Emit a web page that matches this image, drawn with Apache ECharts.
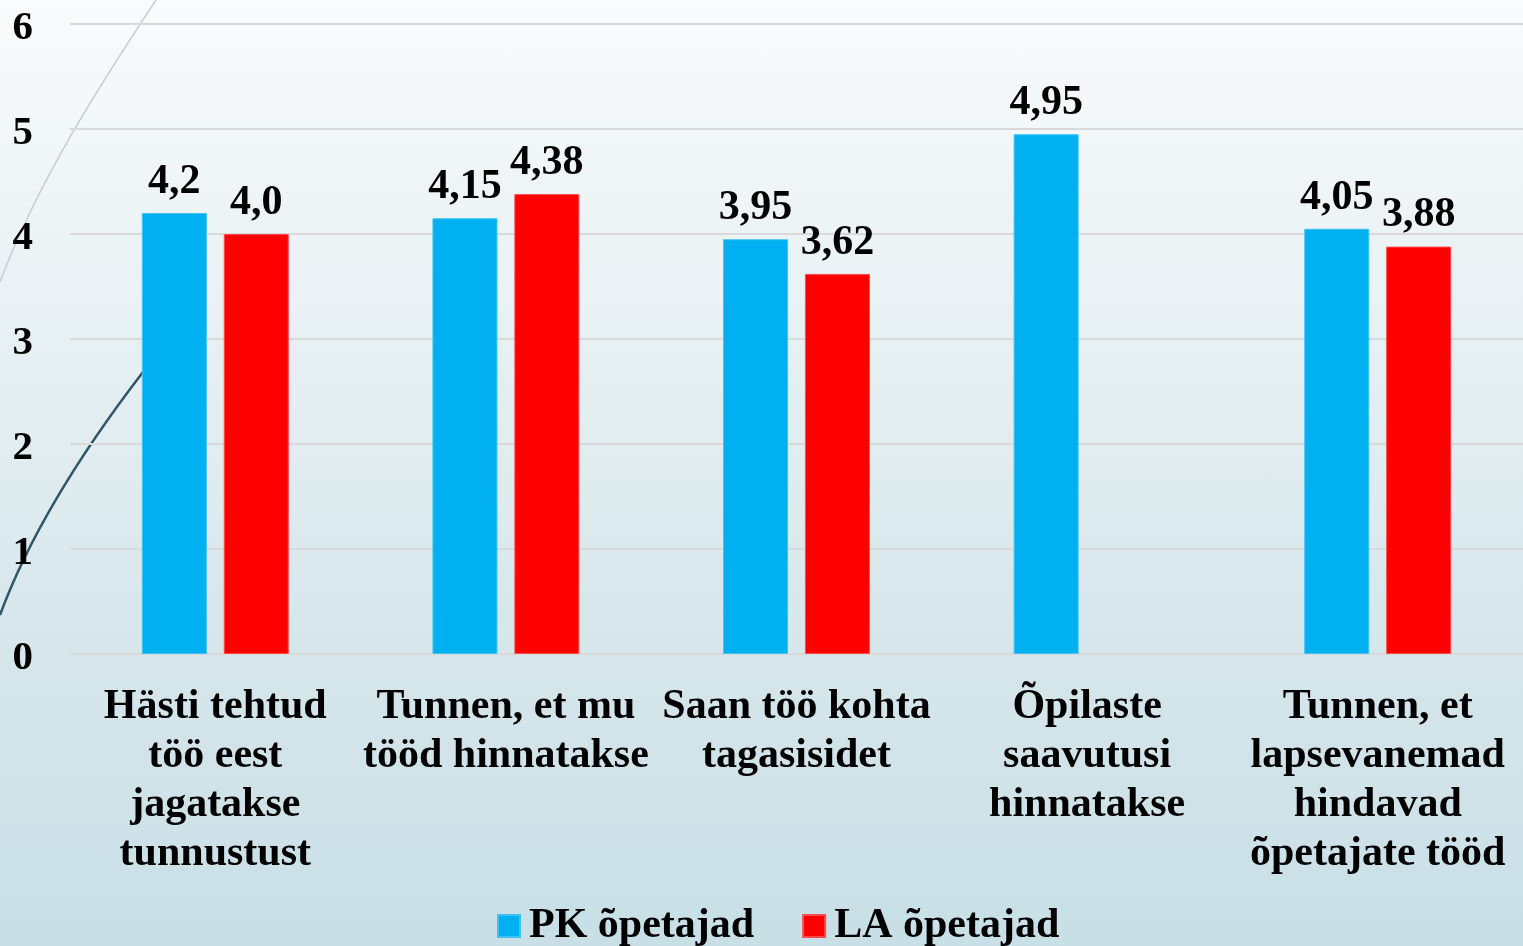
<!DOCTYPE html>
<html>
<head>
<meta charset="utf-8">
<script src="https://cdn.jsdelivr.net/npm/echarts@6/dist/echarts.min.js"></script>
<style>
    html, body {margin: 0; padding: 0;}
    #chart {
        width: 1523px;
        height: 946px;
        background: linear-gradient(to bottom, #f9fbfc 0%, #d6e6eb 69%, #c8dfe6 100%);
    }
</style>
</head>
<body>
<div id="chart"></div>
<script>
// data
var categories = [
    'Hästi tehtud\ntöö eest\njagatakse\ntunnustust',
    'Tunnen, et mu\ntööd hinnatakse',
    'Saan töö kohta\ntagasisidet',
    'Õpilaste\nsaavutusi\nhinnatakse',
    'Tunnen, et\nlapsevanemad\nhindavad\nõpetajate tööd'
];
var seriesNames = ['PK õpetajad', 'LA õpetajad'];
var pkValues = [4.2, 4.15, 3.95, 4.95, 4.05];
var laValues = [4.0, 4.38, 3.62, null, 3.88];
var yTicks = [0, 1, 2, 3, 4, 5, 6];

var FONT = "'Liberation Serif', 'Times New Roman', serif";

function fmtValue(p) {
    var v = p.value;
    if (v == null) return '';
    var s = Number.isInteger(v) ? v.toFixed(1) : String(v);
    return s.replace('.', ',');
}

var chart = echarts.init(document.getElementById('chart'));

var barLabel = {
    show: true,
    position: 'top',
    distance: 10,
    formatter: fmtValue,
    fontFamily: FONT,
    fontWeight: 'bold',
    fontSize: 42,
    color: '#000'
};

var option = {
    backgroundColor: 'transparent',
    textStyle: {fontFamily: FONT},
    animation: false,
    graphic: [
        {
            // slide decoration, light arc
            type: 'bezierCurve',
            z: 0,
            shape: {x1: 156, y1: 0, cpx1: 110, cpy1: 70, cpx2: 40, cpy2: 175, x2: 0, y2: 282},
            style: {stroke: '#c5ced5', lineWidth: 1.5, fill: null}
        },
        {
            // slide decoration, dark arc
            type: 'bezierCurve',
            z: 0,
            shape: {x1: 143, y1: 372, cpx1: 100, cpy1: 428, cpx2: 35, cpy2: 520, x2: 0, y2: 615},
            style: {stroke: '#2f5669', lineWidth: 2.5, fill: null}
        }
    ],
    grid: {
        left: 70,
        right: 0,
        top: 24,
        bottom: 292,
        containLabel: false
    },
    legend: {
        data: seriesNames,
        bottom: -6,
        left: 492,
        itemWidth: 22,
        itemHeight: 22,
        itemGap: 48,
        icon: 'rect',
        textStyle: {
            fontFamily: FONT,
            fontWeight: 'bold',
            fontSize: 42,
            color: '#000',
            padding: [0, 0, 0, 4]
        }
    },
    xAxis: {
        type: 'category',
        data: categories,
        axisTick: {show: false},
        axisLine: {lineStyle: {color: '#d9d9d9', width: 2}},
        axisLabel: {
            interval: 0,
            margin: 29,
            fontFamily: FONT,
            fontWeight: 'bold',
            fontSize: 42,
            lineHeight: 49,
            color: '#000'
        }
    },
    yAxis: {
        type: 'value',
        min: yTicks[0],
        max: yTicks[yTicks.length - 1],
        interval: 1,
        axisLine: {show: false},
        axisTick: {show: false},
        splitLine: {lineStyle: {color: '#d9d9d9', width: 2}},
        axisLabel: {
            margin: 37,
            formatter: '{n|{value}}',
            rich: {
                n: {
                    fontFamily: FONT,
                    fontWeight: 'bold',
                    fontSize: 41,
                    color: '#000',
                    padding: [8, 0, 0, 0]
                }
            }
        }
    },
    series: [
        {
            name: seriesNames[0],
            type: 'bar',
            data: pkValues,
            barWidth: 65,
            barGap: '26%',
            itemStyle: {color: '#00b0f0', borderColor: '#3cc3f3', borderWidth: 1},
            label: barLabel
        },
        {
            name: seriesNames[1],
            type: 'bar',
            data: laValues,
            barWidth: 65,
            barGap: '26%',
            itemStyle: {color: '#ff0000', borderColor: '#ff4a4a', borderWidth: 1},
            label: barLabel
        }
    ]
};

chart.setOption(option);
</script>
</body>
</html>
